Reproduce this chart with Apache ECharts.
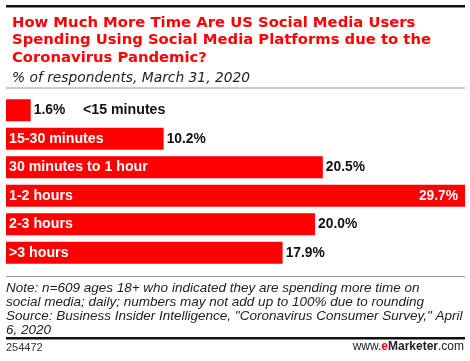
<!DOCTYPE html>
<html><head><meta charset="utf-8">
<script src="https://cdn.jsdelivr.net/npm/echarts@6/dist/echarts.min.js"></script>
<style>html,body{margin:0;padding:0;background:#fff}#c{width:470px;height:361px}</style>
</head><body><div id="c"></div>
<script>
const categories = ["<15 minutes", "15-30 minutes", "30 minutes to 1 hour", "1-2 hours", "2-3 hours", ">3 hours"];
const values = [1.6, 10.2, 20.5, 29.7, 20.0, 17.9];
const titleLines = "How Much More Time Are US Social Media Users\nSpending Using Social Media Platforms due to the\nCoronavirus Pandemic?";
const subtitle = "% of respondents, March 31, 2020";
const noteText = "Note: n=609 ages 18+ who indicated they are spending more time on\nsocial media; daily; numbers may not add up to 100% due to rounding\nSource: Business Insider Intelligence, \"Coronavirus Consumer Survey,\" April\n6, 2020";
const chartId = "254472";

const DFONT = "'DejaVu Sans', sans-serif";
const FONT = "'Liberation Sans', Arial, sans-serif";
const RED = "#ff0000";
const maxV = Math.max(...values);

const chart = echarts.init(document.getElementById('c'), null, {renderer: 'canvas'});
const catData = values.map((v, i) => {
  const item = {value: v};
  if (i === 0) {
    item.label = {position: 'insideLeft', offset: [74, 0], color: '#111'};
  }
  return item;
});
const valData = values.map((v, i) => {
  const item = {value: v};
  if (v === maxV) {
    item.label = {position: 'insideRight', distance: 7, color: '#fff'};
  }
  return item;
});
chart.setOption({
  animation: false,
  grid: {left: 6, right: 5, top: 96, height: 171, containLabel: false},
  xAxis: {type: 'value', min: 0, max: maxV, show: false},
  yAxis: {type: 'category', data: categories, inverse: true, show: false},
  title: [
    {text: titleLines, left: 7, top: 9, textStyle: {color: RED, fontFamily: DFONT, fontWeight: 'bold', fontSize: 14.8, lineHeight: 17.5}},
    {text: subtitle, left: 7, top: 64, textStyle: {color: '#222', fontFamily: DFONT, fontStyle: 'italic', fontWeight: 'normal', fontSize: 13.8, lineHeight: 18}}
  ],
  series: [
    {type: 'bar', data: catData, barWidth: 22, itemStyle: {color: RED},
     label: {show: true, position: 'insideLeft', distance: 3, color: '#fff', fontFamily: FONT, fontWeight: 'bold', fontSize: 14.2,
       formatter: p => categories[p.dataIndex]}},
    {type: 'bar', data: valData, barWidth: 22, barGap: '-100%', itemStyle: {color: 'rgba(0,0,0,0)'},
     label: {show: true, position: 'right', distance: 3, color: '#111', fontFamily: FONT, fontWeight: 'bold', fontSize: 13.8,
       formatter: p => p.value.toFixed(1) + '%'}}
  ],
  graphic: [
    {type: 'rect', shape: {x: 6, y: 5, width: 459, height: 2.5}, style: {fill: '#111'}},
    {type: 'rect', shape: {x: 6, y: 87.5, width: 459, height: 1}, style: {fill: '#999'}},
    {type: 'rect', shape: {x: 6, y: 276, width: 459, height: 1}, style: {fill: '#999'}},
    {type: 'text', left: 6, top: 281, style: {text: noteText, fill: '#222', font: 'italic 13.5px ' + FONT, lineHeight: 14}},
    {type: 'rect', shape: {x: 6, y: 337, width: 459, height: 2.5}, style: {fill: '#111'}},
    {type: 'text', left: 6, top: 342, style: {text: chartId, fill: '#333', font: '11px ' + FONT}},
    {type: 'text', right: 6, top: 341, style: {
      text: '{a|www.}{b|e}{c|Marketer}{a|.com}',
      rich: {
        a: {fill: '#222', font: '12px ' + FONT},
        b: {fill: RED, font: 'bold 12px ' + FONT},
        c: {fill: '#222', font: 'bold 12px ' + FONT}
      }}}
  ]
});
</script></body></html>
